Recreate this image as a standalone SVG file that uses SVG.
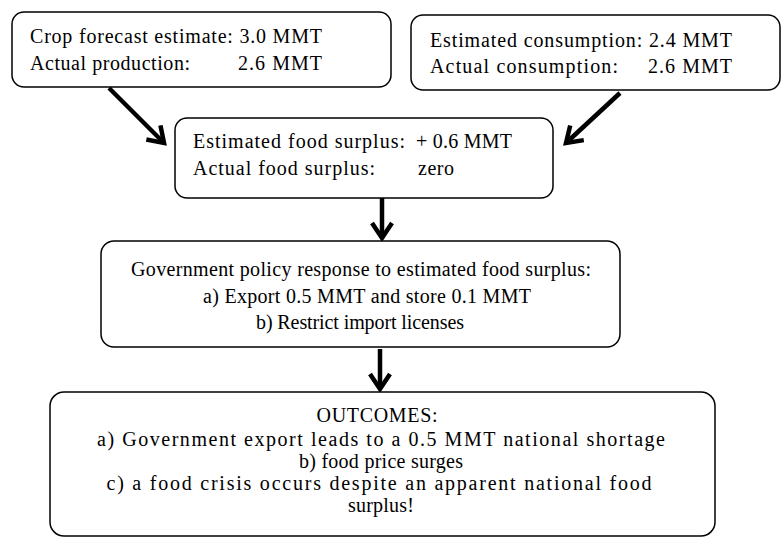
<svg xmlns="http://www.w3.org/2000/svg" width="783" height="537" viewBox="0 0 783 537">
<style>
.box{fill:#fff;stroke:#000;stroke-width:1.5}
.t{font-family:'Liberation Serif','Times New Roman',serif;font-size:20px;fill:#000}
.c{text-anchor:middle}
.conn{stroke:#000;stroke-width:4.5;fill:none;marker-end:url(#head)}
</style>
<defs>
<marker id="head" markerUnits="userSpaceOnUse" viewBox="-20 -14 24 28" refX="0" refY="0" markerWidth="24" markerHeight="28" orient="auto">
<path d="M-15,-10 L0,0 L-15,10" fill="none" stroke="#000" stroke-width="4.5" stroke-linejoin="miter"/>
</marker>
</defs>
<rect width="783" height="537" fill="#fff"/>
<g id="connectors">
<path class="conn" d="M109,88 L164,143"/>
<path class="conn" d="M620,93 L566,143"/>
<path class="conn" d="M382,197 L382,238"/>
<path class="conn" d="M380,349 L380,389"/>
</g>
<g id="crop" class="t">
<rect class="box" x="12" y="12" width="379" height="75" rx="12"/>
<text x="30" y="43" textLength="292" lengthAdjust="spacing">Crop forecast estimate: 3.0 MMT</text>
<text x="30" y="70" textLength="160" lengthAdjust="spacing">Actual production:</text>
<text x="238" y="70" textLength="84" lengthAdjust="spacing">2.6 MMT</text>
</g>
<g id="consumption" class="t">
<rect class="box" x="411" y="15" width="369" height="75" rx="12"/>
<text x="430" y="47" textLength="302" lengthAdjust="spacing">Estimated consumption: 2.4 MMT</text>
<text x="430" y="73" textLength="188" lengthAdjust="spacing">Actual consumption:</text>
<text x="648" y="73" textLength="84" lengthAdjust="spacing">2.6 MMT</text>
</g>
<g id="surplus" class="t">
<rect class="box" x="175" y="118" width="378" height="80" rx="12"/>
<text x="193" y="148" textLength="212" lengthAdjust="spacing">Estimated food surplus:</text>
<text x="416" y="148" textLength="96" lengthAdjust="spacing">+ 0.6 MMT</text>
<text x="193" y="175" textLength="182" lengthAdjust="spacing">Actual food surplus:</text>
<text x="418" y="175" textLength="36" lengthAdjust="spacing">zero</text>
</g>
<g id="policy" class="t">
<rect class="box" x="101" y="241" width="519" height="106" rx="13"/>
<text class="c" x="361" y="276" textLength="460" lengthAdjust="spacing">Government policy response to estimated food surplus:</text>
<text class="c" x="367" y="303" textLength="328" lengthAdjust="spacing">a) Export 0.5 MMT and store 0.1 MMT</text>
<text class="c" x="360" y="329" textLength="208" lengthAdjust="spacing">b) Restrict import licenses</text>
</g>
<g id="outcomes" class="t">
<rect class="box" x="50" y="392" width="665" height="144" rx="14"/>
<text class="c" x="377" y="422" textLength="121" lengthAdjust="spacing">OUTCOMES:</text>
<text class="c" x="381" y="446" textLength="568" lengthAdjust="spacing">a) Government export leads to a 0.5 MMT national shortage</text>
<text class="c" x="381" y="468" textLength="164" lengthAdjust="spacing">b) food price surges</text>
<text class="c" x="379" y="490" textLength="545" lengthAdjust="spacing">c) a food crisis occurs despite an apparent national food</text>
<text class="c" x="381" y="512" textLength="66" lengthAdjust="spacing">surplus!</text>
</g>
</svg>
